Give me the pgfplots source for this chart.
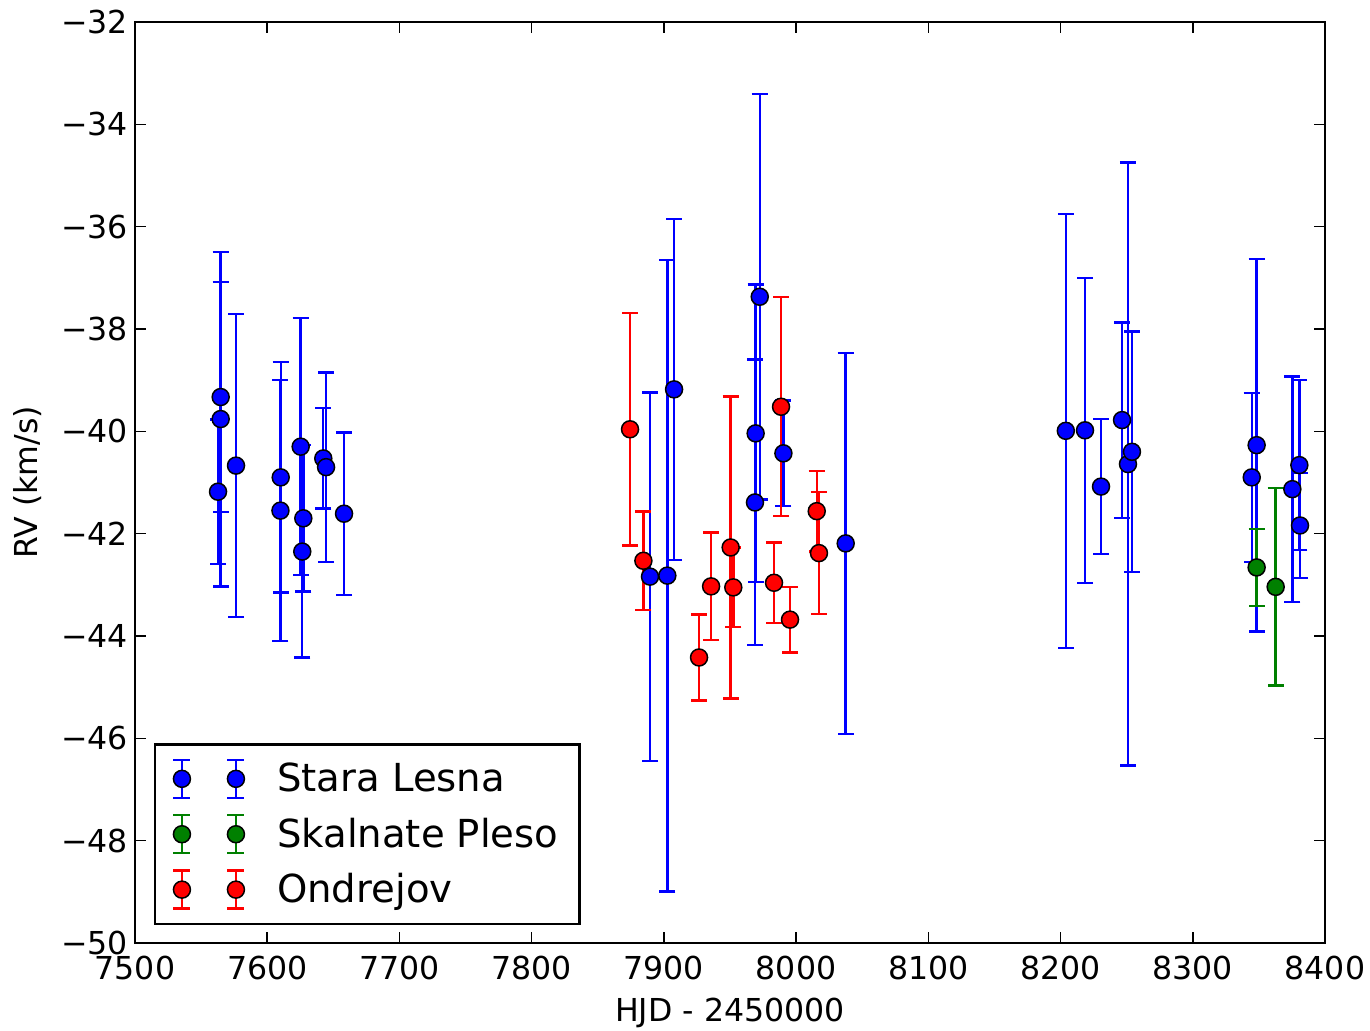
\documentclass[border=0pt]{standalone}
\usepackage{fontspec}
\setmainfont{DejaVu Sans}
\usepackage{pgfplots}
\pgfplotsset{compat=1.18}
\definecolor{mplgreen}{RGB}{0,128,0}

% two markers with error bars, as matplotlib draws with numpoints=2
\pgfplotsset{
  errleg/.style={legend image code/.code={
    \draw[##1,mark=none,line width=1.2pt]
      (0pt,-9.5pt)--(0pt,9.5pt) (-4.25pt,-9.5pt)--(4.25pt,-9.5pt) (-4.25pt,9.5pt)--(4.25pt,9.5pt)
      (27pt,-9.5pt)--(27pt,9.5pt) (22.75pt,-9.5pt)--(31.25pt,-9.5pt) (22.75pt,9.5pt)--(31.25pt,9.5pt);
    \draw[##1] plot coordinates {(0pt,0pt) (27pt,0pt)};
    \path (45pt,0pt);
  }},
  rvpts/.style={#1, only marks, mark=*, mark size=4.25pt,
    mark options={draw=black, fill=#1, line width=0.75pt}, errleg,
    error bars/.cd, y dir=both, y explicit,
    error bar style={line width=1.2pt, #1, solid},
    error mark options={rotate=90, #1, mark size=4pt, line width=1.2pt}},
}

\begin{document}
\begin{tikzpicture}
\path[use as bounding box] (-67.5pt,-44pt) rectangle (617.5pt,471.5pt);
\begin{axis}[
    at={(0pt,0pt)}, anchor=south west,
    scale only axis, width=595pt, height=460.5pt,
    xmin=7500, xmax=8400, ymin=-50, ymax=-32,
    xtick={7500,7600,...,8400},
    ytick={-50,-48,...,-32},
    yticklabels={−50,−48,−46,−44,−42,−40,−38,−36,−34,−32},
    /pgf/number format/assume math mode=true,
    /pgf/number format/1000 sep={},
    tick align=inside, major tick length=5.5pt,
    tick style={black, line width=0.8pt},
    axis line style={line width=1.2pt},
    tick label style={font=\fontsize{15.8}{18}\selectfont},
    xticklabel style={yshift=-3pt},
    label style={font=\fontsize{15.8}{18}\selectfont},
    xlabel={HJD - 2450000}, ylabel={RV (km/s)},
    xlabel shift=2pt, ylabel shift=3pt,
    legend cell align=left,
    legend style={at={(axis description cs:0.016,0.0195)}, anchor=south west,
      draw=black, line width=1.2pt, font=\fontsize{19.3}{22}\selectfont,
      row sep=7.5pt, inner xsep=8.5pt, inner ysep=7pt},
]
\addplot[rvpts=blue] table[x index=0, y index=1, y error index=2] {
7564.8 -39.33 2.25
7564.8 -39.76 3.27
7562.8 -41.18 1.41
7576.4 -40.67 2.96
7610.2 -40.90 2.25
7610.0 -41.55 2.55
7625.3 -40.30 2.51
7627.3 -41.70 1.43
7626.5 -42.35 2.07
7642.4 -40.53 0.98
7644.5 -40.70 1.85
7658.1 -41.61 1.59
7889.5 -42.84 3.60
7902.6 -42.82 6.17
7907.7 -39.18 3.33
7969.4 -40.04 2.91
7968.9 -41.39 2.79
7972.5 -37.37 3.96
7990.4 -40.43 1.03
8037.5 -42.19 3.72
8204.0 -39.99 4.24
8218.5 -39.98 2.98
8230.6 -41.08 1.32
8246.5 -39.78 1.91
8251.0 -40.64 5.89
8254.0 -40.40 2.35
8348.3 -40.27 3.64
8344.6 -40.90 1.65
8375.3 -41.13 2.20
8380.6 -40.66 1.66
8381.1 -41.84 1.03
};
\addlegendentry{Stara Lesna}
\addplot[rvpts=mplgreen] table[x index=0, y index=1, y error index=2] {
8348.3 -42.66 0.75
8362.7 -43.04 1.93
};
\addlegendentry{Skalnate Pleso}
\addplot[rvpts=red] table[x index=0, y index=1, y error index=2] {
7874.4 -39.96 2.27
7884.5 -42.53 0.96
7926.6 -44.42 0.84
7935.7 -43.03 1.05
7950.5 -42.27 2.95
7952.5 -43.05 0.78
7988.6 -39.52 2.14
7983.3 -42.96 0.79
7995.4 -43.68 0.64
8015.6 -41.56 0.79
8017.3 -42.38 1.19
};
\addlegendentry{Ondrejov}
\end{axis}
\end{tikzpicture}
\end{document}
